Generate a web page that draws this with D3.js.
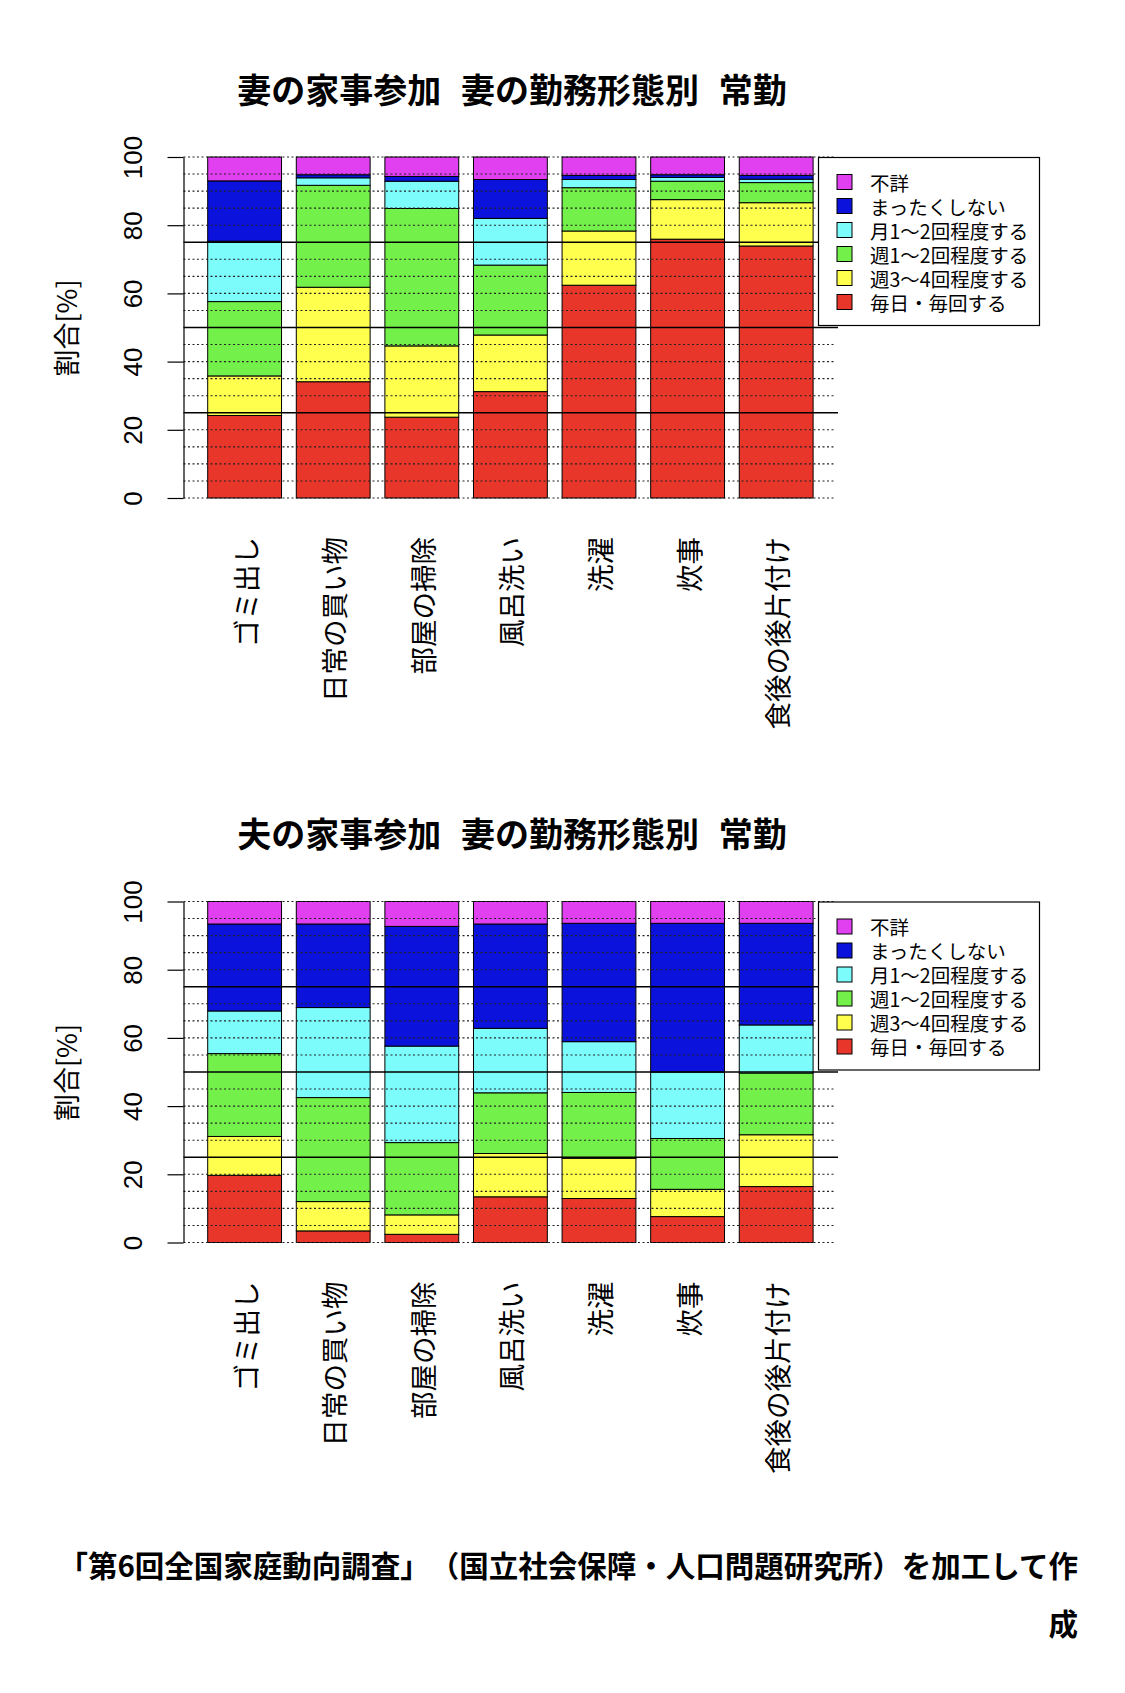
<!DOCTYPE html>
<html><head><meta charset="utf-8">
<script src="https://cdn.jsdelivr.net/npm/d3@7"></script>
<style>body{margin:0;background:#fff} text{text-spacing-trim:space-all;}</style>
</head><body><svg id="c" width="1125" height="1693"></svg>
<script>
// ---------- data ----------
const categories = ["ゴミ出し","日常の買い物","部屋の掃除","風呂洗い","洗濯","炊事","食後の後片付け"];
// stacked bottom -> top
const seriesNames = ["毎日・毎回する","週3〜4回程度する","週1〜2回程度する","月1〜2回程度する","まったくしない","不詳"];
const seriesColors = ["#E8372A","#FFFF4D","#74F04B","#7DFCFC","#0B12DC","#E040F0"];

// 妻の家事参加 (wife)
const wifeDaily   = [24.2, 34.1, 23.7, 31.2, 62.4, 75.9, 73.9];
const wifeWeek34  = [11.6, 27.7, 20.9, 16.6, 15.9, 11.6, 12.7];
const wifeWeek12  = [21.8, 29.9, 40.3, 20.5, 12.7,  5.4,  5.9];
const wifeMonth12 = [17.7,  2.2,  8.0, 13.7,  2.4,  1.1,  1.0];
const wifeNever   = [17.7,  0.9,  1.4, 11.4,  1.2,  0.8,  1.1];
const wifeUnknown = [ 7.0,  5.2,  5.7,  6.6,  5.4,  5.2,  5.4];

// 夫の家事参加 (husband)
const husDaily   = [19.7,  3.4,  2.4, 13.4, 12.9,  7.6, 16.4];
const husWeek34  = [11.4,  8.6,  5.7, 12.7, 11.8,  8.0, 15.2];
const husWeek12  = [24.3, 30.5, 21.2, 17.8, 19.3, 14.9, 18.1];
const husMonth12 = [12.5, 26.4, 28.3, 18.9, 14.9, 19.5, 14.1];
const husNever   = [25.5, 24.5, 35.1, 30.6, 34.7, 43.6, 29.8];
const husUnknown = [ 6.6,  6.6,  7.3,  6.6,  6.4,  6.4,  6.4];

const yTicks = [0, 20, 40, 60, 80, 100];
const gridValues = [0,5,10,15,20,30,35,40,45,55,60,65,70,80,85,90,95,100];
const solidValues = [25, 50, 75];
const titles = ["妻の家事参加 妻の勤務形態別 常勤", "夫の家事参加 妻の勤務形態別 常勤"];
const yLabel = "割合[%]";
const sourceLine1 = "「第6回全国家庭動向調査」（国立社会保障・人口問題研究所）を加工して作";
const sourceLine2 = "成";

// ---------- drawing ----------
const svg = d3.select("#c");
svg.append("rect").attr("width",1125).attr("height",1693).attr("fill","#fff");
const CJK = "'Noto Sans CJK JP','Noto Sans CJK SC',sans-serif";

function drawChart(top, title, series) {
  const g = svg.append("g").attr("transform", `translate(0,${top})`);
  const y = d3.scaleLinear().domain([0, 100]).range([498, 157]);
  const x = d3.scaleBand().domain(categories).range([207.7, 813.1]).paddingInner(1/6).paddingOuter(0);

  const rows = categories.map((c, i) => {
    const o = {cat: c};
    seriesNames.forEach((s, k) => o[s] = series[k][i]);
    return o;
  });
  const stacked = d3.stack().keys(seriesNames)(rows);

  g.append("g").selectAll("g").data(stacked).join("g")
    .attr("fill", (d, i) => seriesColors[i])
    .selectAll("rect").data(d => d).join("rect")
    .attr("x", d => x(d.data.cat))
    .attr("width", x.bandwidth())
    .attr("y", d => y(d[1]))
    .attr("height", d => y(d[0]) - y(d[1]))
    .attr("stroke", "#000").attr("stroke-width", 1);

  // grid (drawn over bars)
  g.append("g").selectAll("line").data(gridValues).join("line")
    .attr("x1", 183.5).attr("x2", 835)
    .attr("y1", d => y(d)).attr("y2", d => y(d))
    .attr("stroke", "#222").attr("stroke-width", 1.1).attr("stroke-dasharray", "2,2.5");
  g.append("g").selectAll("line").data(solidValues).join("line")
    .attr("x1", 183.5).attr("x2", 838)
    .attr("y1", d => y(d)).attr("y2", d => y(d))
    .attr("stroke", "#000").attr("stroke-width", 1.5);

  // y axis
  const axis = d3.axisLeft(y).tickValues(yTicks).tickSize(16).tickSizeOuter(0).tickPadding(0);
  const ag = g.append("g").attr("transform", "translate(183.5,0)").call(axis);
  ag.attr("font-size", null).attr("font-family", null);
  ag.select(".domain").attr("stroke", "#000").attr("stroke-width", 1.2);
  ag.selectAll(".tick line").attr("stroke", "#000").attr("stroke-width", 1.2);
  ag.selectAll(".tick text")
    .attr("x", 0).attr("dy", 0)
    .attr("transform", "translate(-42,0) rotate(-90)")
    .attr("text-anchor", "middle")
    .attr("fill", "#000")
    .style("font-family", "'Liberation Sans',Arial,sans-serif")
    .style("font-size", "26px");

  // y label
  g.append("text")
    .attr("transform", "translate(65,328) rotate(-90)")
    .attr("text-anchor", "middle").attr("dominant-baseline", "central")
    .style("font-family", CJK).style("font-size", "27px")
    .text(yLabel);

  // x labels
  g.append("g").selectAll("text").data(categories).join("text")
    .attr("transform", d => `translate(${x(d) + x.bandwidth()/2},537) rotate(-90)`)
    .attr("text-anchor", "end").attr("dominant-baseline", "central")
    .style("font-family", CJK).style("font-size", "27.5px")
    .text(d => d);

  // title
  g.append("text")
    .attr("x", 512).attr("y", 88)
    .attr("text-anchor", "middle").attr("dominant-baseline", "central")
    .style("font-family", CJK).style("font-size", "34px").style("font-weight", "700")
    .style("word-spacing", "12px")
    .text(title);

  // legend (top item first)
  const lg = g.append("g");
  lg.append("rect").attr("x", 818.5).attr("y", 157.5).attr("width", 221).attr("height", 168)
    .attr("fill", "#fff").attr("stroke", "#000").attr("stroke-width", 1.2);
  const legendItems = seriesNames.map((s, i) => ({name: s, color: seriesColors[i]})).reverse();
  const li = lg.selectAll("g.li").data(legendItems).join("g")
    .attr("transform", (d, i) => `translate(0,${182 + i * 24})`);
  li.append("rect").attr("x", 837).attr("y", -7.5).attr("width", 15).attr("height", 15)
    .attr("fill", d => d.color).attr("stroke", "#000").attr("stroke-width", 1);
  li.append("text").attr("x", 870).attr("y", 0).attr("dominant-baseline", "central")
    .style("font-family", CJK).style("font-size", "19.5px")
    .text(d => d.name);
}

drawChart(0, titles[0], [wifeDaily, wifeWeek34, wifeWeek12, wifeMonth12, wifeNever, wifeUnknown]);
drawChart(744.5, titles[1], [husDaily, husWeek34, husWeek12, husMonth12, husNever, husUnknown]);

// source note
svg.append("text").attr("x", 1078).attr("y", 1564)
  .attr("text-anchor", "end").attr("dominant-baseline", "central")
  .style("font-family", CJK).style("font-size", "29.5px").style("font-weight", "700")
  .text(sourceLine1);
svg.append("text").attr("x", 1078).attr("y", 1622)
  .attr("text-anchor", "end").attr("dominant-baseline", "central")
  .style("font-family", CJK).style("font-size", "29.5px").style("font-weight", "700")
  .text(sourceLine2);
</script>
</body></html>
